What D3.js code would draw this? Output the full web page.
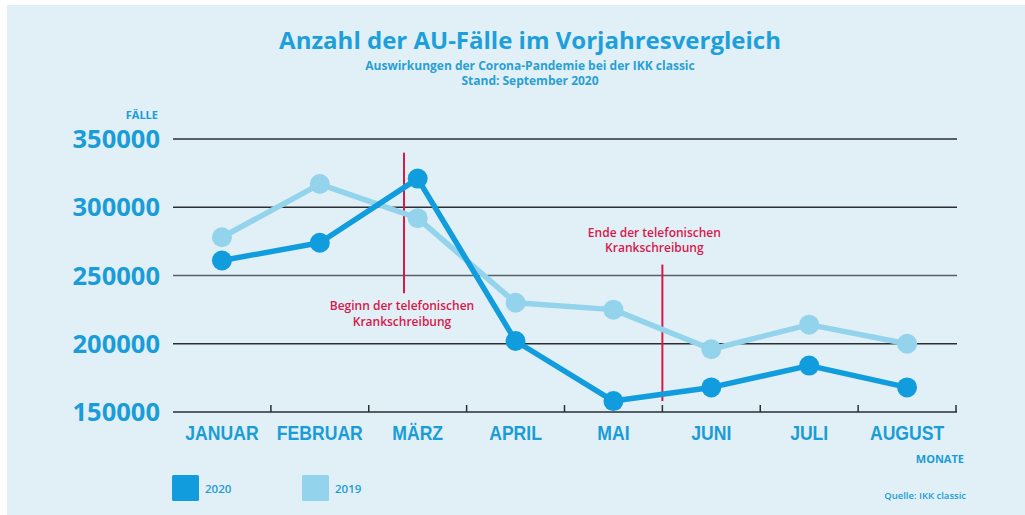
<!DOCTYPE html>
<html><head><meta charset="utf-8">
<script src="https://cdn.jsdelivr.net/npm/d3@7"></script>
<style>
html,body{margin:0;padding:0;background:#fff;}
svg{display:block;}
</style></head>
<body><svg id="c" width="1025" height="515"></svg>
<script>
const months = ["JANUAR","FEBRUAR","MÄRZ","APRIL","MAI","JUNI","JULI","AUGUST"];
const values2020 = [261000, 274000, 321000, 202000, 158000, 168000, 184000, 168000];
const values2019 = [278000, 317000, 292000, 230000, 225000, 196000, 214000, 200000];
const yTicks = [150000, 200000, 250000, 300000, 350000];
const seriesNames = ["2020", "2019"];
const events = [
  {month: "MÄRZ", frac: 0.36, lines: ["Beginn der telefonischen", "Krankschreibung"], y0: 340000, y1: 237000, labelBelow: true},
  {month: "JUNI", frac: 0.0, lines: ["Ende der telefonischen", "Krankschreibung"], y0: 258000, y1: 158000, labelBelow: false}
];

const W = 1025, H = 515;
const svg = d3.select("#c");
const blue = "#119ddd", light = "#93d3ec", red = "#d8174b", txt = "#1a9cd8";
const FONT = "'Open Sans', 'Liberation Sans', sans-serif";

svg.append("rect").attr("x", 7).attr("y", 5).attr("width", W - 7).attr("height", H - 5).attr("fill", "#e1f0f6");

const x = d3.scaleBand().domain(months).range([173, 956]);
const y = d3.scaleLinear().domain([150000, 350000]).range([412, 139]);

// title
svg.append("text").attr("x", 530).attr("y", 49).attr("text-anchor", "middle")
  .attr("font-family", FONT).attr("font-weight", 700).attr("font-size", 24).attr("fill", "#1d9fdb")
  .text("Anzahl der AU-Fälle im Vorjahresvergleich");
svg.append("text").attr("x", 530).attr("y", 70).attr("text-anchor", "middle")
  .attr("font-family", FONT).attr("font-weight", 700).attr("font-size", 12).attr("fill", "#2a9fd2")
  .text("Auswirkungen der Corona-Pandemie bei der IKK classic");
svg.append("text").attr("x", 530).attr("y", 85).attr("text-anchor", "middle")
  .attr("font-family", FONT).attr("font-weight", 700).attr("font-size", 12).attr("fill", "#2a9fd2")
  .text("Stand: September 2020");

// grid
const grid = svg.append("g");
grid.selectAll("line").data(yTicks.filter(d => d !== 150000)).join("line")
  .attr("x1", 173).attr("x2", 957).attr("y1", d => y(d)).attr("y2", d => y(d))
  .attr("stroke", (d) => d === 250000 ? "#5a5f63" : "#2a2f33").attr("stroke-width", 1.5);

// x axis
const xAxis = svg.append("g").attr("transform", `translate(0,${y(150000)})`);
xAxis.append("line").attr("x1", 173).attr("x2", 957).attr("stroke", "#2a2f33").attr("stroke-width", 1.5);
xAxis.selectAll("line.tick").data(months).join("line").attr("class", "tick")
  .attr("x1", d => x(d) + x.bandwidth()).attr("x2", d => x(d) + x.bandwidth())
  .attr("y1", 0).attr("y2", -7).attr("stroke", "#2a2f33").attr("stroke-width", 1.5);
xAxis.selectAll("text").data(months).join("text")
  .attr("transform", d => `translate(${x(d) + x.bandwidth() / 2},28) scale(0.88,1.03)`)
  .attr("text-anchor", "middle")
  .attr("font-family", "'Liberation Sans', sans-serif").attr("font-weight", 700).attr("font-size", 20)
  .attr("fill", txt).text(d => d);

// y labels
svg.selectAll("text.yl").data(yTicks).join("text").attr("class", "yl")
  .attr("x", 160).attr("y", d => y(d) + 9).attr("text-anchor", "end")
  .attr("font-family", FONT).attr("font-weight", 700).attr("font-size", 25.5)
  .attr("fill", txt).text(d => d);

svg.append("text").attr("x", 158).attr("y", 119).attr("text-anchor", "end")
  .attr("font-family", FONT).attr("font-weight", 700).attr("font-size", 11).attr("fill", txt).text("FÄLLE");
svg.append("text").attr("x", 964).attr("y", 463).attr("text-anchor", "end")
  .attr("font-family", FONT).attr("font-weight", 700).attr("font-size", 11).attr("fill", txt).text("MONATE");
svg.append("text").attr("x", 966).attr("y", 499).attr("text-anchor", "end")
  .attr("font-family", FONT).attr("font-weight", 600).attr("font-size", 9.5).attr("fill", txt).text("Quelle: IKK classic");

// events (vertical lines drawn under series)
const ev = svg.append("g");
events.forEach(e => {
  const ex = x(e.month) + e.frac * x.bandwidth();
  ev.append("line").attr("x1", ex).attr("x2", ex).attr("y1", y(e.y0)).attr("y2", y(e.y1))
    .attr("stroke", red).attr("stroke-width", 2);
  const tx = e.labelBelow ? ex - 2 : ex - 8;
  const t0 = e.labelBelow ? y(e.y1) + 17 : y(e.y0) - 28;
  e.lines.forEach((l, i) => {
    ev.append("text").attr("x", tx).attr("y", t0 + i * 15.5).attr("text-anchor", "middle")
      .attr("font-family", FONT).attr("font-weight", 600).attr("font-size", 12).attr("fill", red).text(l);
  });
});

// series
const line = d3.line().x((d, i) => x(months[i]) + x.bandwidth() / 2).y(d => y(d));
const series = [{name: "2019", vals: values2019, color: light}, {name: "2020", vals: values2020, color: blue}];
series.forEach(s => {
  const g = svg.append("g");
  g.append("path").attr("d", line(s.vals)).attr("fill", "none").attr("stroke", s.color)
    .attr("stroke-width", 5.5).attr("stroke-linejoin", "round");
  g.selectAll("circle").data(s.vals).join("circle")
    .attr("cx", (d, i) => x(months[i]) + x.bandwidth() / 2).attr("cy", d => y(d)).attr("r", 10)
    .attr("fill", s.color);
});

// legend
const legColors = {"2020": blue, "2019": light};
const leg = svg.append("g");
seriesNames.forEach((n, i) => {
  const lx = 172 + i * 130;
  leg.append("rect").attr("x", lx).attr("y", 475).attr("width", 27).attr("height", 26).attr("rx", 1.5).attr("fill", legColors[n]);
  leg.append("text").attr("x", lx + 33).attr("y", 493).attr("font-family", FONT).attr("font-weight", 600)
    .attr("font-size", 11.5).attr("fill", txt).text(n);
});
</script></body></html>
